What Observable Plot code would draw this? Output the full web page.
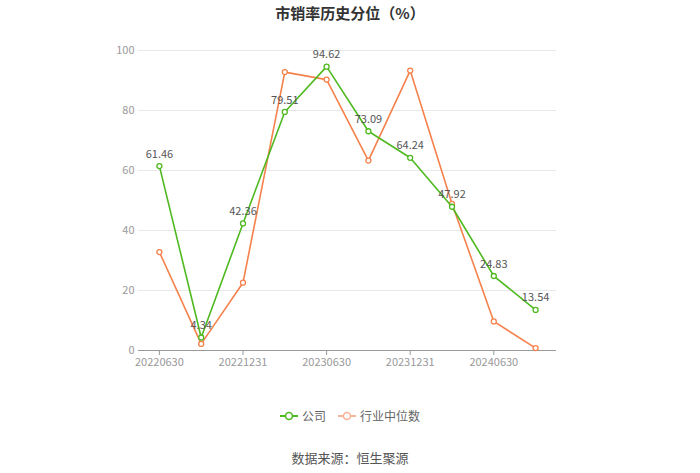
<!DOCTYPE html>
<html><head><meta charset="utf-8">
<script src="https://cdn.jsdelivr.net/npm/d3@7"></script>
<script src="https://cdn.jsdelivr.net/npm/@observablehq/plot@0.6"></script>
<style>
body{margin:0;background:#fff;font-family:"Noto Sans CJK SC","Noto Sans",sans-serif;}
#wrap{position:relative;width:700px;height:473px;overflow:hidden;}
#title{position:absolute;top:2px;left:0;width:700px;text-align:center;font-size:15px;font-weight:bold;color:#333;}
#legend{position:absolute;top:407px;left:0;width:700px;display:flex;justify-content:center;gap:12px;font-size:12px;color:#666;}
.item{display:flex;align-items:center;gap:4px;}
#caption{position:absolute;top:448px;left:0;width:700px;text-align:center;font-size:13px;color:#555;}
#chart{position:absolute;top:0;left:0;}
</style></head><body>
<div id="wrap">
<div id="chart"></div>
<div id="title">市销率历史分位（%）</div>
<div id="legend"></div>
<div id="caption">数据来源：恒生聚源</div>
</div>
<script>
const dates = ["20220630","20220930","20221231","20230331","20230630","20230930","20231231","20240331","20240630","20240930"];
const company = [61.46,4.34,42.36,79.51,94.62,73.09,64.24,47.92,24.83,13.54];
const industry = [32.8,2.2,22.6,92.8,90.3,63.3,93.3,48.9,9.7,0.8];
const tickLabels = ["20220630","20221231","20230630","20231231","20240630"];
const yTicks = [0,20,40,60,80,100];
const seriesNames = ["公司","行业中位数"];
const colors = {"公司":"#4fb920","行业中位数":"#f5824c"};

const compData = dates.map((d,i)=>({date:d, value:company[i]}));
const indData = dates.map((d,i)=>({date:d, value:industry[i]}));

const chart = Plot.plot({
  width:700, height:473,
  marginTop:50, marginBottom:123, marginLeft:138, marginRight:144,
  style:{fontFamily:'"Noto Sans CJK SC","Noto Sans",sans-serif', fontSize:"11px", background:"transparent"},
  x:{type:"point", domain:dates, padding:0.5, round:false, label:null},
  y:{domain:[0,100], label:null},
  marks:[
    Plot.ruleY(yTicks.filter(v=>v>0), {stroke:"#e8e8e8"}),
    Plot.axisY({ticks:yTicks, tickSize:0, tickPadding:4, fill:"#999", label:null}),
    Plot.ruleY([0], {stroke:"#999"}),
    Plot.axisX({ticks:tickLabels, tickSize:5, tickPadding:3, stroke:"#999", fill:"#999", label:null}),
    Plot.line(indData, {x:"date", y:"value", stroke:colors["行业中位数"], strokeWidth:1.6}),
    Plot.dot(indData, {x:"date", y:"value", r:2.5, stroke:colors["行业中位数"], fill:"#fff", strokeWidth:1.3}),
    Plot.line(compData, {x:"date", y:"value", stroke:colors["公司"], strokeWidth:1.6}),
    Plot.dot(compData, {x:"date", y:"value", r:2.5, stroke:colors["公司"], fill:"#fff", strokeWidth:1.3}),
    Plot.text(compData, {x:"date", y:"value", text:d=>d.value.toFixed(2), dy:-12, fill:"#555", fontSize:11})
  ]
});
document.getElementById("chart").appendChild(chart);

const legend = document.getElementById("legend");
const legendColors = {"公司":"#4fb920","行业中位数":"#f7b497"};
seriesNames.forEach(n=>{
  const it = document.createElement("div"); it.className="item";
  it.innerHTML = `<svg width="18" height="10"><line x1="0" y1="5" x2="18" y2="5" stroke="${legendColors[n]}" stroke-width="2"/><circle cx="9" cy="5" r="3.5" fill="#fff" stroke="${legendColors[n]}" stroke-width="1.6"/></svg><span>${n}</span>`;
  legend.appendChild(it);
});
</script>
</body></html>
